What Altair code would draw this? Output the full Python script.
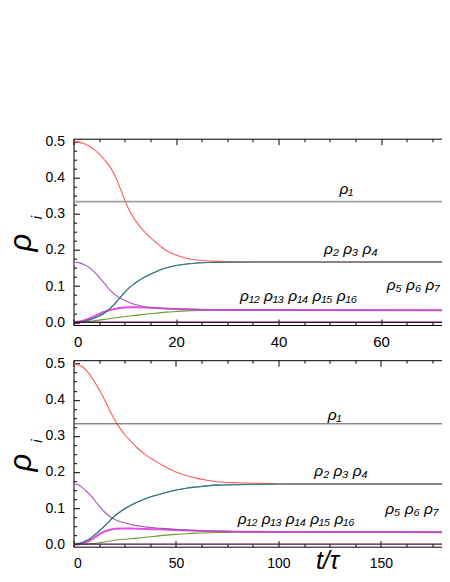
import altair as alt
import pandas as pd

# ---------------- values ----------------
# top panel
top_x_end = 71.9
top_red_t = [0, 2, 4, 6, 8, 9, 10, 11, 12, 13, 14, 15, 16, 17, 18, 20, 22, 24, 27, 30, 35, 73.5]
top_red_v = [0.500, 0.494, 0.478, 0.450, 0.408, 0.375, 0.338, 0.306, 0.283, 0.264, 0.248, 0.234,
             0.222, 0.210, 0.199, 0.186, 0.177, 0.172, 0.169, 0.1675, 0.1668, 0.1667]
top_teal_t = [0, 2, 4, 6, 8, 9, 10, 11, 12, 13, 14, 15, 16, 17, 18, 20, 22, 24, 27, 30, 35, 73.5]
top_teal_v = [0, 0.003, 0.011, 0.025, 0.050, 0.067, 0.083, 0.097, 0.108, 0.118, 0.126, 0.133,
              0.139, 0.145, 0.150, 0.157, 0.161, 0.164, 0.1655, 0.1662, 0.1666, 0.1667]
top_purple_t = [0, 1, 2, 3, 4, 5, 6, 7, 8, 9, 10, 11, 12, 14, 16, 18, 20, 25, 30, 40, 73.5]
top_purple_v = [0.1667, 0.165, 0.160, 0.152, 0.140, 0.125, 0.108, 0.091, 0.078, 0.068, 0.060,
                0.054, 0.049, 0.043, 0.040, 0.038, 0.037, 0.035, 0.034, 0.0335, 0.0333]
top_magenta_t = [0, 2, 4, 6, 8, 10, 12, 14, 16, 18, 20, 25, 30, 73.5]
top_magenta_v = [0, 0.005, 0.016, 0.029, 0.037, 0.041, 0.0415, 0.041, 0.0395, 0.038, 0.0365,
                 0.0345, 0.0337, 0.0333]
top_olive_t = [0, 2, 4, 6, 8, 10, 12, 14, 16, 18, 20, 22, 25, 30, 73.5]
top_olive_v = [0, 0.001, 0.004, 0.008, 0.012, 0.016, 0.019, 0.022, 0.025, 0.028, 0.030, 0.0315,
               0.0325, 0.0331, 0.0333]
top_flat_t = [0, 73.5]
top_rho1_v = [0.3333, 0.3333]
top_zero_v = [0.0, 0.0]

# bottom panel
bot_x_end = 179.8
bot_red_t = [0, 2, 4, 6, 8, 10, 12, 14, 16, 18, 20, 22, 25, 28, 31, 35, 40, 45, 50, 55, 60, 65,
             70, 80, 90, 100, 115, 184]
bot_red_v = [0.500, 0.497, 0.4925, 0.483, 0.469, 0.452, 0.433, 0.413, 0.390, 0.367, 0.345, 0.327,
             0.303, 0.285, 0.267, 0.248, 0.230, 0.214, 0.200, 0.190, 0.183, 0.177, 0.173, 0.170,
             0.1685, 0.1675, 0.1668, 0.1667]
bot_teal_t = [0, 4, 8, 10, 12, 14, 16, 18, 20, 22, 25, 28, 31, 35, 40, 45, 50, 55, 60, 65, 70,
              80, 90, 100, 184]
bot_teal_v = [0, 0.004, 0.015, 0.024, 0.0335, 0.0435, 0.055, 0.0665, 0.0775, 0.0865, 0.098,
              0.1075, 0.116, 0.126, 0.135, 0.143, 0.150, 0.155, 0.1585, 0.1615, 0.1635, 0.165,
              0.166, 0.1665, 0.1667]
bot_purple_t = [0, 2, 4, 6, 8, 10, 12, 14, 16, 18, 20, 23, 26, 30, 35, 40, 45, 50, 60, 70, 80,
                100, 120, 184]
bot_purple_v = [0.1667, 0.165, 0.158, 0.148, 0.137, 0.124, 0.110, 0.096, 0.085, 0.076, 0.069,
                0.062, 0.057, 0.052, 0.048, 0.045, 0.043, 0.041, 0.038, 0.036, 0.035, 0.034,
                0.0335, 0.0333]
bot_magenta_t = [0, 4, 8, 10, 12, 14, 16, 18, 20, 24, 28, 35, 42, 50, 60, 70, 80, 100, 184]
bot_magenta_v = [0, 0.002, 0.010, 0.017, 0.025, 0.032, 0.037, 0.040, 0.0425, 0.0435, 0.0435,
                 0.042, 0.041, 0.039, 0.037, 0.0355, 0.0345, 0.0337, 0.0333]
bot_olive_t = [0, 5, 10, 15, 20, 25, 30, 35, 40, 45, 50, 55, 60, 70, 80, 90, 184]
bot_olive_v = [0, 0.0005, 0.002, 0.006, 0.011, 0.0135, 0.016, 0.019, 0.022, 0.025, 0.027, 0.029,
               0.0305, 0.0322, 0.033, 0.0333, 0.0333]
bot_flat_t = [0, 184]
bot_rho1_v = [0.3333, 0.3333]
bot_zero_v = [0.0, 0.0]

# curve labels
lab_text = ["ρ₁", "ρ₂ ρ₃ ρ₄", "ρ₁₂ ρ₁₃ ρ₁₄ ρ₁₅ ρ₁₆", "ρ₅ ρ₆ ρ₇ ρ₈ ρ₉ ρ₁₀ ρ₁₁"]
top_lab_t = [51.9, 48.9, 32.5, 61.1]
top_lab_v = [0.354, 0.190, 0.059, 0.089]
bot_lab_t = [124.0, 117.5, 80.1, 152.1]
bot_lab_v = [0.343, 0.190, 0.056, 0.083]

# axis ticks / titles
y_ticks = [round(0.025 * i, 3) for i in range(21)]
top_x_ticks = list(range(0, 75, 5))
bot_x_ticks = [12.5 * i for i in range(15)]
y_title_main = ["ρ"]
y_title_sub = ["i"]
x_title = "t/τ"

series_names = ["olive", "magenta", "purple", "blue", "red"]
series_colors = ["#6a9a2a", "#e64ce6", "#a655b5", "#3355cc", "#ff5a5a"]


def curves(red_t, red_v, teal_t, teal_v, pur_t, pur_v, mag_t, mag_v, ol_t, ol_v):
    rows = []
    for name, ts, vs in [("olive", ol_t, ol_v), ("magenta", mag_t, mag_v),
                         ("purple", pur_t, pur_v), ("blue", teal_t, teal_v),
                         ("red", red_t, red_v)]:
        for t, v in zip(ts, vs):
            rows.append({"s": name, "t": t, "v": v})
    return pd.DataFrame(rows)


FONT = "Liberation Sans"
SVG_W = 434
SVG_H = 562
PAD_L = 65.5
PAD_T = 130.7
PLOT_W = SVG_W - PAD_L
TOP_H = 186.3
BOT_H = 186.5
GAP = 34.5


def panel(df, teal_t, teal_v, flat_t, rho1_v, zero_v, lab_t, lab_v, xdom, ydom, height,
          xticks, xmajor, gray_color, gray_width, title_y_main, title_y_i, with_title,
          xlab_size, xlab_pad):
    xs = alt.Scale(domain=xdom, nice=False, zero=False)
    ys = alt.Scale(domain=ydom, nice=False, zero=False)
    tick_x = alt.ExprRef(f"(datum.value % {xmajor} === 0) ? -6 : -3")
    tick_y = alt.ExprRef("abs(datum.value*10 - round(datum.value*10)) < 0.000001 ? -6 : -3")
    common = dict(domainColor="black", domainWidth=1, tickColor="black", tickWidth=1,
                  grid=False, labelColor="black", labelFont=FONT)
    xb_kwargs = dict(values=xticks, orient="bottom",
                     labelExpr=f"(datum.value % {xmajor} === 0) ? datum.label : ''",
                     tickSize=tick_x, labelPadding=xlab_pad, labelFontSize=xlab_size, **common)
    if with_title:
        xb_kwargs.update(title=x_title, titleFont=FONT, titleFontSize=25,
                         titleFontStyle="italic", titleFontWeight="normal",
                         titleX=253.5, titleY=22, titleAlign="center",
                         titleBaseline="alphabetic", titleColor="black")
    else:
        xb_kwargs.update(title=None)
    x_bottom = alt.Axis(**xb_kwargs)
    x_top = alt.Axis(values=xticks, orient="top", labels=False, tickSize=tick_x, title=None,
                     **common)
    y_axis = alt.Axis(values=y_ticks, orient="left", tickSize=tick_y, labelPadding=15,
                      labelFontSize=14, title=None,
                      labelExpr="abs(datum.value*10 - round(datum.value*10)) < 0.000001 ? format(datum.value, '.1f') : ''",
                      **common)
    yenc = alt.Y("v:Q", scale=ys, axis=y_axis)

    lines = alt.Chart(df).mark_line(clip=True, interpolate="monotone").encode(
        x=alt.X("t:Q", scale=xs, axis=x_bottom),
        y=yenc,
        color=alt.Color("s:N", scale=alt.Scale(domain=series_names, range=series_colors),
                        legend=None),
        strokeWidth=alt.condition("datum.s === 'magenta'", alt.value(2.0), alt.value(1.1)),
    )
    green = alt.Chart(pd.DataFrame({"t": teal_t, "v": teal_v})).mark_line(
        strokeWidth=1.1, clip=True, interpolate="monotone", color="#2e8b57", opacity=0.8
    ).encode(x=alt.X("t:Q", scale=xs, axis=None), y=yenc)
    gray = alt.Chart(pd.DataFrame({"t": flat_t, "v": rho1_v})).mark_line(
        strokeWidth=gray_width, color=gray_color, clip=True
    ).encode(x=alt.X("t:Q", scale=xs, axis=x_top), y=yenc)
    zero = alt.Chart(pd.DataFrame({"t": flat_t, "v": zero_v})).mark_line(
        strokeWidth=1.4, color="#4b1040", clip=True
    ).encode(x=alt.X("t:Q", scale=xs, axis=None), y=yenc)
    labels = alt.Chart(pd.DataFrame({"txt": lab_text, "t": lab_t, "v": lab_v})).mark_text(
        align="left", baseline="alphabetic", font=FONT, fontStyle="italic", fontSize=15.5,
        color="black", clip=True
    ).encode(x=alt.X("t:Q", scale=xs, axis=None), y=yenc, text="txt:N")
    rho = alt.Chart(pd.DataFrame({"s": y_title_main})).mark_text(
        angle=270, align="center", baseline="top", font=FONT, fontStyle="italic",
        fontSize=31, color="black"
    ).encode(x=alt.value(-66.5), y=alt.value(title_y_main), text="s:N")
    sub = alt.Chart(pd.DataFrame({"s": y_title_sub})).mark_text(
        angle=270, align="center", baseline="top", font=FONT, fontStyle="italic",
        fontSize=15, color="black"
    ).encode(x=alt.value(-44), y=alt.value(title_y_i), text="s:N")

    return alt.layer(lines, green, gray, zero, labels, rho, sub).properties(
        width=PLOT_W, height=height
    ).resolve_axis(x="independent")


top_df = curves(top_red_t, top_red_v, top_teal_t, top_teal_v, top_purple_t, top_purple_v,
                top_magenta_t, top_magenta_v, top_olive_t, top_olive_v)
bot_df = curves(bot_red_t, bot_red_v, bot_teal_t, bot_teal_v, bot_purple_t, bot_purple_v,
                bot_magenta_t, bot_magenta_v, bot_olive_t, bot_olive_v)

top = panel(top_df, top_teal_t, top_teal_v, top_flat_t, top_rho1_v, top_zero_v, top_lab_t,
            top_lab_v, [0, top_x_end], [-0.0075, 0.5075], TOP_H, top_x_ticks, 20,
            "#a0a0a0", 1.8, 104, 79, False, 15, 15)
bottom = panel(bot_df, bot_teal_t, bot_teal_v, bot_flat_t, bot_rho1_v, bot_zero_v, bot_lab_t,
               bot_lab_v, [0, bot_x_end], [-0.007, 0.5095], BOT_H, bot_x_ticks, 50,
               "#555555", 1.0, 102.5, 81, True, 14, 16)

# with autosize "none" the page is (panel width + left/right padding) x (top/bottom padding)
chart = alt.vconcat(top, bottom, spacing=GAP, bounds="flush").properties(
    autosize=alt.AutoSizeParams(type="none"),
    padding={"left": PAD_L, "top": PAD_T, "right": SVG_W - PAD_L - PLOT_W,
             "bottom": SVG_H - PAD_T},
).configure_view(stroke=None)

chart.save("out.html", embed_options={"renderer": "svg", "actions": False})
